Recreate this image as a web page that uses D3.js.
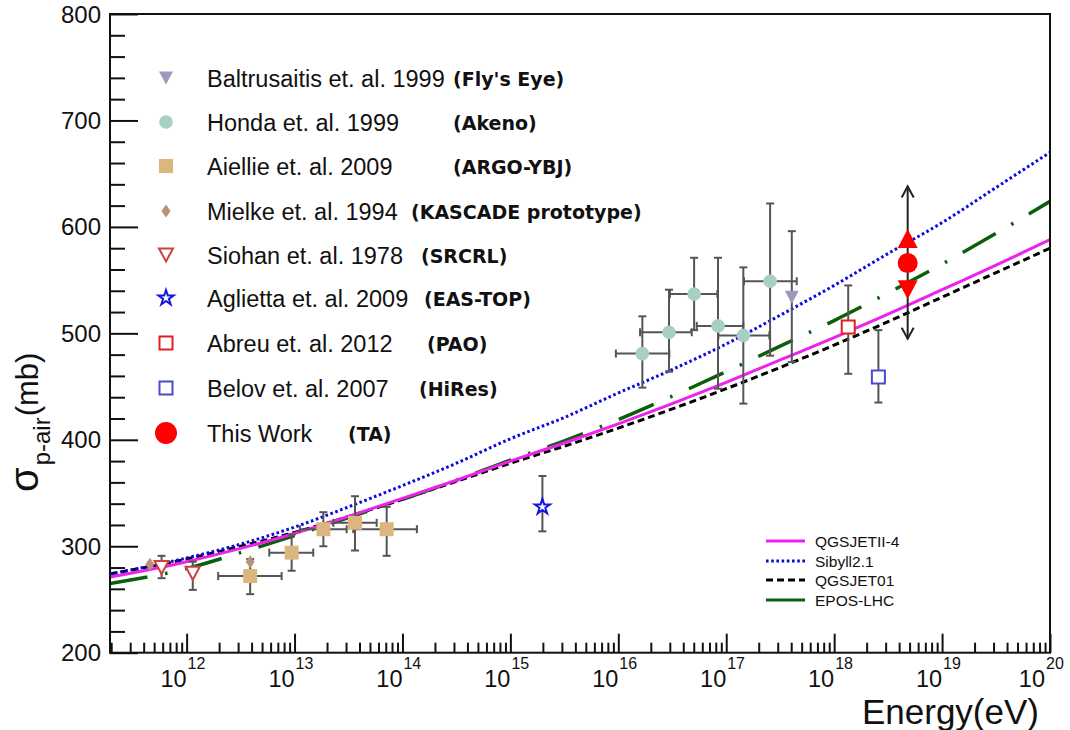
<!DOCTYPE html>
<html><head><meta charset="utf-8">
<script src="https://cdn.jsdelivr.net/npm/d3@7"></script>
<style>body{margin:0;background:#fff;} svg{display:block;font-family:"Liberation Sans",Arial,sans-serif;}</style>
</head><body>
<svg id="c" width="1070" height="730"></svg>
<script>
// ---------------- data ----------------
const yMajorTicks = [200, 300, 400, 500, 600, 700, 800];
const xMajorExps = [12, 13, 14, 15, 16, 17, 18, 19, 20];

// model curves: log10(E/eV) and sigma (mb)
const modelLogE = [11.29, 12, 12.5, 13, 13.5, 14, 14.5, 15, 15.5, 16, 16.5, 17, 17.5, 18, 18.5, 19, 19.5, 20];
const qgsjetII4 = [271, 285.5, 298, 312, 328, 345, 362, 380, 397, 415, 434, 454, 475, 496, 518, 541, 564, 588];
const sibyll21  = [274, 289, 302, 318, 337, 357, 378, 401, 421, 444, 466, 490, 517, 545, 575, 604, 637, 670];
const qgsjet01  = [274, 288, 300, 313, 328, 344, 361, 378, 394, 411, 429, 448, 468, 489, 511, 534, 557, 580];
const eposLHC   = [265, 279, 294, 310, 327, 344, 362, 381, 399, 419, 441, 464, 488, 512, 538, 565, 594, 624];
const modelNames = ["QGSJETII-4", "Sibyll2.1", "QGSJET01", "EPOS-LHC"];

// measurements: E (eV), sigma, sigma low/high, E low/high
const flysEye = [{e: 4.05e17, s: 534, lo: 473, hi: 596}];
const akeno = [
  {e: 1.67e16, s: 481, lo: 449, hi: 516, elo: 9.5e15, ehi: 2.97e16},
  {e: 2.95e16, s: 501, lo: 464, hi: 541, elo: 1.59e16, ehi: 4.79e16},
  {e: 5.04e16, s: 537, lo: 503, hi: 571, elo: 3.01e16, ehi: 8.28e16},
  {e: 8.39e16, s: 507, lo: 448, hi: 571, elo: 5.33e16, ehi: 1.44e17},
  {e: 1.44e17, s: 498, lo: 434, hi: 562, elo: 8.45e16, ehi: 2.51e17},
  {e: 2.55e17, s: 549, lo: 479, hi: 622, elo: 1.46e17, ehi: 4.50e17}
];
const argoYbj = [
  {e: 3.88e12, s: 272, lo: 255, hi: 288, elo: 1.96e12, ehi: 7.59e12},
  {e: 9.40e12, s: 294, lo: 277, hi: 311, elo: 5.83e12, ehi: 1.49e13},
  {e: 1.85e13, s: 316, lo: 300, hi: 332, elo: 1.12e13, ehi: 3.04e13},
  {e: 3.63e13, s: 322, lo: 296, hi: 347, elo: 2.29e13, ehi: 5.77e13},
  {e: 7.14e13, s: 316, lo: 291, hi: 337, elo: 3.50e13, ehi: 1.36e14}
];
const kascade = [{e: 4.57e11, s: 283}, {e: 3.88e12, s: 285.5}];
const srcrl = [
  {e: 5.86e11, s: 280, lo: 270, hi: 291},
  {e: 1.14e12, s: 274.6, lo: 259, hi: 285.5}
];
const easTop = [{e: 1.98e15, s: 337, lo: 314, hi: 366}];
const pao = [{e: 1.35e18, s: 506, lo: 462, hi: 545}];
const hires = [{e: 2.57e18, s: 459, lo: 435, hi: 503}];
const ta = [{e: 4.8e18, s: 566, statLo: 495, statHi: 638, sysLo: 541, sysHi: 589}];

const legendNames = ["Baltrusaitis et. al. 1999", "Honda et. al. 1999", "Aiellie et. al. 2009",
  "Mielke et. al. 1994", "Siohan et. al. 1978", "Aglietta et. al. 2009", "Abreu et. al. 2012",
  "Belov et. al. 2007", "This Work"];
const legendExps = ["(Fly's Eye)", "(Akeno)", "(ARGO-YBJ)", "(KASCADE prototype)", "(SRCRL)",
  "(EAS-TOP)", "(PAO)", "(HiRes)", "(TA)"];

// ---------------- layout ----------------
const L = 110, R = 1050, T = 14, B = 652.7;
const svg = d3.select("#c");
const xs = d3.scaleLog().domain([Math.pow(10, 11.29), 1e20]).range([L, R]);
const ys = d3.scaleLinear().domain([200, 800]).range([B, T]);

svg.append("defs").append("clipPath").attr("id", "clip")
  .append("rect").attr("x", L).attr("y", T).attr("width", R - L).attr("height", B - T);

// axes ticks
const yMinor = d3.range(200, 801, 20).filter(v => v % 100 !== 0);
const gyMinor = svg.append("g").attr("transform", `translate(${L},0)`)
  .call(d3.axisLeft(ys).tickValues(yMinor).tickSize(-15).tickFormat(""));
const gyMajor = svg.append("g").attr("transform", `translate(${L},0)`)
  .call(d3.axisLeft(ys).tickValues(yMajorTicks).tickSize(-28).tickFormat(""));
const xMinor = [];
for (let n = 11; n < 20; n++) for (let k = 2; k <= 9; k++) {
  const v = k * Math.pow(10, n);
  if (v >= xs.domain()[0] && v <= 1e20) xMinor.push(v);
}
const gxMinor = svg.append("g").attr("transform", `translate(0,${B})`)
  .call(d3.axisBottom(xs).tickValues(xMinor).tickSize(-10).tickFormat(""));
const gxMajor = svg.append("g").attr("transform", `translate(0,${B})`)
  .call(d3.axisBottom(xs).tickValues(xMajorExps.map(n => Math.pow(10, n))).tickSize(-19).tickFormat(""));
[gyMinor, gyMajor, gxMinor, gxMajor].forEach(g => {
  g.select(".domain").remove();
  g.selectAll("line").attr("stroke", "#111").attr("stroke-width", 2);
});

// y tick labels
svg.append("g").selectAll("text").data(yMajorTicks).join("text")
  .attr("x", 101).attr("y", d => ys(d) + 8.5).attr("text-anchor", "end")
  .attr("font-size", 24).attr("fill", "#111").text(d => d);

// x tick labels
const xl = svg.append("g");
xMajorExps.forEach(n => {
  const px = xs(Math.pow(10, n)) - (n === 20 ? 5 : 0);
  xl.append("text").attr("x", px).attr("y", 687).attr("text-anchor", "end")
    .attr("font-size", 23.5).attr("fill", "#111").text("10");
  xl.append("text").attr("x", px + 1).attr("y", 669).attr("text-anchor", "start")
    .attr("font-size", 16).attr("fill", "#111").text(n);
});

// axis titles
svg.append("text").attr("x", 1039).attr("y", 724).attr("text-anchor", "end")
  .attr("font-size", 35).attr("fill", "#111").text("Energy(eV)");
const yt = svg.append("text").attr("transform", "translate(38,492) rotate(-90)")
  .attr("font-size", 40).attr("fill", "#111");
yt.append("tspan").text("σ");
yt.append("tspan").attr("font-size", 24).attr("dy", 12).attr("dx", 2).text("p-air");
yt.append("tspan").attr("font-size", 31).attr("dy", -12).attr("dx", 1).text("(mb)");

// model curves
const line = d3.line().x(d => xs(Math.pow(10, d[0]))).y(d => ys(d[1])).curve(d3.curveMonotoneX);
const models = [
  {v: qgsjet01, color: "#000", w: 3, dash: "7,4"},
  {v: eposLHC, color: "#0b5e0b", w: 3.5, dash: "38,18,2.5,18"},
  {v: qgsjetII4, color: "#ee22ee", w: 3, dash: null},
  {v: sibyll21, color: "#0a0ae0", w: 3, dash: "2.6,2.6"}
];
const gm = svg.append("g").attr("clip-path", "url(#clip)");
models.forEach(m => {
  gm.append("path").datum(modelLogE.map((e, i) => [e, m.v[i]]))
    .attr("d", line).attr("fill", "none").attr("stroke", m.color)
    .attr("stroke-width", m.w).attr("stroke-dasharray", m.dash);
});

// error bars
const gE = svg.append("g").attr("stroke", "#555").attr("stroke-width", 2).attr("fill", "none");
function errY(data) {
  data.forEach(d => {
    if (d.lo === undefined) return;
    const x = xs(d.e);
    gE.append("line").attr("x1", x).attr("x2", x).attr("y1", ys(d.lo)).attr("y2", ys(d.hi));
    [d.lo, d.hi].forEach(v => gE.append("line").attr("x1", x - 4).attr("x2", x + 4).attr("y1", ys(v)).attr("y2", ys(v)));
  });
}
function errX(data) {
  data.forEach(d => {
    const y = ys(d.s);
    gE.append("line").attr("x1", xs(d.elo)).attr("x2", xs(d.ehi)).attr("y1", y).attr("y2", y);
    [d.elo, d.ehi].forEach(v => gE.append("line").attr("x1", xs(v)).attr("x2", xs(v)).attr("y1", y - 4).attr("y2", y + 4));
  });
}
[flysEye, akeno, argoYbj, srcrl, easTop, pao, hires].forEach(errY);
[akeno, argoYbj].forEach(errX);

// marker shapes
const tri = (w, h, down) => down
  ? `M${-w/2},${-h/2}L${w/2},${-h/2}L0,${h/2}Z`
  : `M${-w/2},${h/2}L${w/2},${h/2}L0,${-h/2}Z`;
const sq = s => `M${-s/2},${-s/2}h${s}v${s}h${-s}Z`;
const diamond = (w, h) => `M0,${-h/2}L${w/2},0L0,${h/2}L${-w/2},0Z`;
const star = d3.symbol(d3.symbolStar, 72)();

const marks = {
  flys: g => g.append("path").attr("d", tri(14, 13, true)).attr("fill", "#9d9bbd"),
  akeno: g => g.append("circle").attr("r", 6.8).attr("fill", "#a9cfc5"),
  argo: g => g.append("path").attr("d", sq(14)).attr("fill", "#dcb67f"),
  kascade: g => g.append("path").attr("d", diamond(9, 13)).attr("fill", "#b59377"),
  srcrl: g => g.append("path").attr("d", tri(14, 13, true)).attr("fill", "#fff").attr("stroke", "#d0403f").attr("stroke-width", 2),
  eas: g => g.append("path").attr("d", star).attr("fill", "#fff").attr("stroke", "#1515e0").attr("stroke-width", 2),
  pao: g => g.append("path").attr("d", sq(13)).attr("fill", "#fff").attr("stroke", "#e02020").attr("stroke-width", 2),
  hires: g => g.append("path").attr("d", sq(13)).attr("fill", "#fff").attr("stroke", "#4a4ad0").attr("stroke-width", 2),
  ta: g => g.append("circle").attr("r", 11).attr("fill", "#ff0000")
};

const gP = svg.append("g");
function plot(data, key) {
  data.forEach(d => {
    const g = gP.append("g").attr("transform", `translate(${xs(d.e)},${ys(d.s)})`);
    marks[key](g);
  });
}
plot(kascade, "kascade");
plot(srcrl, "srcrl");
plot(argoYbj, "argo");
plot(akeno, "akeno");
plot(flysEye, "flys");
plot(easTop, "eas");
plot(pao, "pao");
plot(hires, "hires");

// TA point
ta.forEach(d => {
  const x = xs(d.e);
  const ga = svg.append("g").attr("stroke", "#222").attr("stroke-width", 2).attr("fill", "none");
  ga.append("line").attr("x1", x).attr("x2", x).attr("y1", ys(d.statHi)).attr("y2", ys(d.statLo));
  ga.append("path").attr("d", `M${x-6},${ys(d.statHi)+11}L${x},${ys(d.statHi)}L${x+6},${ys(d.statHi)+11}`);
  ga.append("path").attr("d", `M${x-6},${ys(d.statLo)-11}L${x},${ys(d.statLo)}L${x+6},${ys(d.statLo)-11}`);
  svg.append("path").attr("transform", `translate(${x},${ys(d.sysHi)})`).attr("d", tri(20, 19, false)).attr("fill", "#ff0000");
  svg.append("path").attr("transform", `translate(${x},${ys(d.sysLo)})`).attr("d", tri(20, 19, true)).attr("fill", "#ff0000");
  svg.append("circle").attr("cx", x).attr("cy", ys(d.s)).attr("r", 10).attr("fill", "#ff0000");
});

// measurement legend
const legendKeys = ["flys", "akeno", "argo", "kascade", "srcrl", "eas", "pao", "hires", "ta"];
const legendRowY = [78, 122, 166, 211, 255, 298, 343, 388, 433];
const legendExpX = [453, 453, 453, 411, 421, 424, 427, 419, 348];
const gl = svg.append("g");
legendKeys.forEach((k, i) => {
  const g = gl.append("g").attr("transform", `translate(166,${legendRowY[i]})`);
  marks[k](g);
  gl.append("text").attr("x", 207).attr("y", legendRowY[i] + 8.5)
    .attr("font-size", 23.5).attr("fill", "#111").text(legendNames[i]);
  gl.append("text").attr("x", legendExpX[i]).attr("y", legendRowY[i] + 7.5)
    .attr("font-family", "DejaVu Sans").attr("font-weight", "bold")
    .attr("font-size", 19).attr("fill", "#111").text(legendExps[i]);
});

// model legend
const mlY = [541, 561, 580, 600];
const mlStyle = [
  {color: "#ee22ee", dash: null},
  {color: "#0a0ae0", dash: "2.6,2.6"},
  {color: "#000", dash: "7,4"},
  {color: "#0b5e0b", dash: null}
];
modelNames.forEach((n, i) => {
  svg.append("line").attr("x1", 766).attr("x2", 805).attr("y1", mlY[i]).attr("y2", mlY[i])
    .attr("stroke", mlStyle[i].color).attr("stroke-width", 3).attr("stroke-dasharray", mlStyle[i].dash);
  svg.append("text").attr("x", 815).attr("y", mlY[i] + 5.5).attr("font-size", 15.5)
    .attr("fill", "#111").text(n);
});

// frame
svg.append("rect").attr("x", L).attr("y", T).attr("width", R - L).attr("height", B - T)
  .attr("fill", "none").attr("stroke", "#111").attr("stroke-width", 2);
</script>
</body></html>
